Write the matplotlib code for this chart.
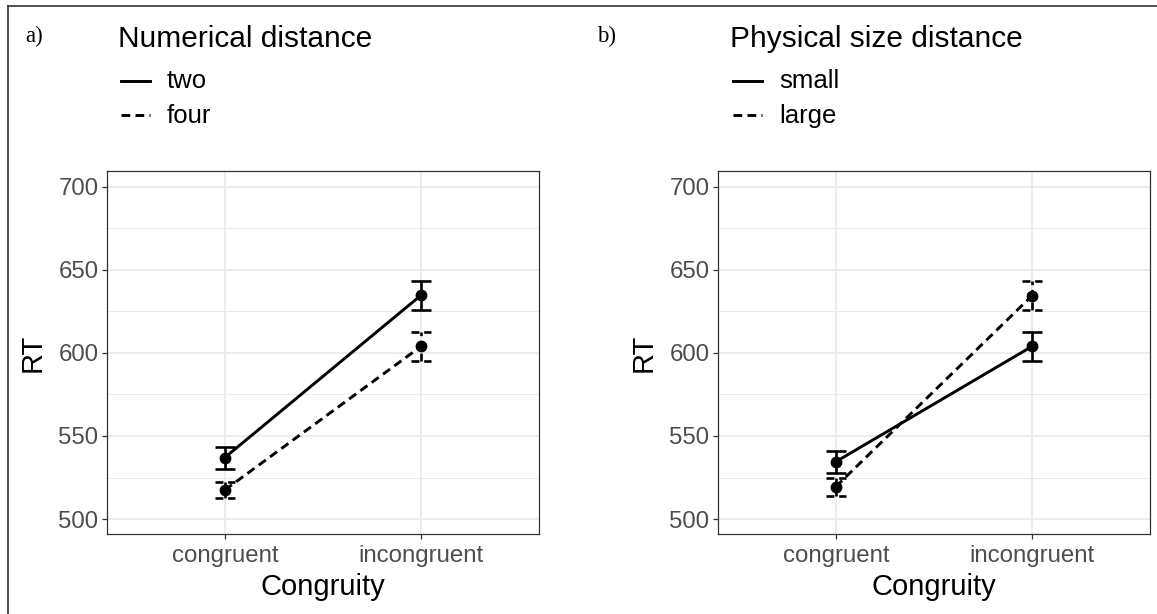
import matplotlib
matplotlib.use("Agg")
import matplotlib.pyplot as plt
from matplotlib.lines import Line2D
from matplotlib.ticker import FixedLocator
import numpy as np

# ---- data ----
categories = ["congruent", "incongruent"]
x_label = "Congruity"
y_label = "RT"
y_ticks = [500, 550, 600, 650, 700]

a_title = "Numerical distance"
a_levels = ["two", "four"]
a_means = {"two": [537.0, 634.8], "four": [517.5, 604.0]}
a_err = {"two": [6.6, 8.7], "four": [5.0, 8.7]}

b_title = "Physical size distance"
b_levels = ["small", "large"]
b_means = {"small": [534.5, 604.0], "large": [519.5, 634.5]}
b_err = {"small": [6.5, 8.7], "large": [5.5, 8.7]}

panel_tags = ["a)", "b)"]

# ---- figure ----
W, H = 1157, 614
fig = plt.figure(figsize=(W / 100, H / 100), dpi=100)
fig.patch.set_facecolor("white")
SANS = ["Liberation Sans", "DejaVu Sans"]
SERIF = ["Liberation Serif", "DejaVu Serif"]

def px(x, y):
    return x / W, 1 - y / H

LW = 2.1
ELW = 1.9
DASH = (3.0, 1.8)
styles = {0: dict(linestyle="-"), 1: dict(linestyle=(0, DASH))}

def draw_panel(left_px, levels, means, errs, tag, title, tag_x, title_x):
    ax_top, ax_bot = 171, 534
    ax_w = 432
    ax = fig.add_axes([left_px / W, 1 - ax_bot / H, ax_w / W, (ax_bot - ax_top) / H])
    ax.set_facecolor("white")
    xs = np.arange(1, len(categories) + 1)
    for i, lev in enumerate(levels):
        m = np.array(means[lev])
        e = np.array(errs[lev])
        st = styles[i]
        ax.plot(xs, m, color="black", lw=LW, zorder=3, **st)
        ax.plot(xs, m, "o", color="black", ms=7.5, zorder=4)
        ax.vlines(xs, m - e, m + e, color="black", lw=ELW, zorder=3,
                  linestyles=[st["linestyle"]])
        ax.hlines(np.concatenate([m - e, m + e]), np.concatenate([xs, xs]) - 0.05,
                  np.concatenate([xs, xs]) + 0.05, color="black", lw=ELW, zorder=3,
                  linestyles=[st["linestyle"]])
    ax.set_xlim(0.4, 2.6)
    ax.set_ylim(491, 709.5)
    ax.set_xticks(xs)
    ax.set_xticklabels(categories)
    ax.set_yticks(y_ticks)
    ax.yaxis.set_minor_locator(FixedLocator([525, 575, 625, 675]))
    ax.grid(True, which="major", color="#EBEBEB", lw=1.3, zorder=0)
    ax.grid(True, which="minor", axis="y", color="#EBEBEB", lw=0.7, zorder=0)
    ax.set_axisbelow(True)
    ax.tick_params(axis="both", which="major", length=3.6, width=0.9, color="#333333",
                   labelcolor="#4D4D4D", labelsize=17.3, pad=2.5)
    ax.tick_params(axis="x", which="major", pad=4.5)
    ax.tick_params(axis="y", which="minor", length=0)
    for lab in ax.get_xticklabels() + ax.get_yticklabels():
        lab.set_family(SANS)
    for s in ax.spines.values():
        s.set_color("#333333")
        s.set_linewidth(0.9)
    # axis titles
    fig.text(*px(left_px + ax_w / 2, 595), x_label, ha="center", va="baseline",
             fontsize=21, family=SANS, color="black")
    fig.text(*px(left_px - 74, (ax_top + ax_bot) / 2), y_label, ha="center", va="center",
             rotation=90, fontsize=21, family=SANS, color="black")
    # tag and legend
    fig.text(*px(tag_x, 42), tag, ha="left", va="baseline", fontsize=16.5,
             family=SERIF, color="black")
    fig.text(*px(title_x, 47), title, ha="left", va="baseline", fontsize=21.5,
             family=SANS, color="black")
    for i, (lev, yl, yb) in enumerate(zip(levels, [81, 115], [88, 123])):
        x0, y0 = px(title_x + 3, yl)
        x1, _ = px(title_x + 32, yl)
        ln = Line2D([x0, x1], [y0, y0], transform=fig.transFigure, color="black",
                    lw=LW, **styles[i])
        fig.add_artist(ln)
        fig.text(*px(title_x + 49, yb), lev, ha="left", va="baseline", fontsize=18.5,
                 family=SANS, color="black")
    return ax

draw_panel(107, a_levels, a_means, a_err, panel_tags[0], a_title, 25, 118)
draw_panel(718, b_levels, b_means, b_err, panel_tags[1], b_title, 597, 730)

# outer frame (left and top)
fig.add_artist(Line2D([8 / W, 8 / W], [0, 1 - 6 / H], transform=fig.transFigure,
                      color="#333333", lw=1.2))
fig.add_artist(Line2D([8 / W, 1], [1 - 6 / H, 1 - 6 / H], transform=fig.transFigure,
                      color="#333333", lw=1.2))

fig.savefig("out.png", dpi=100, facecolor="white")
